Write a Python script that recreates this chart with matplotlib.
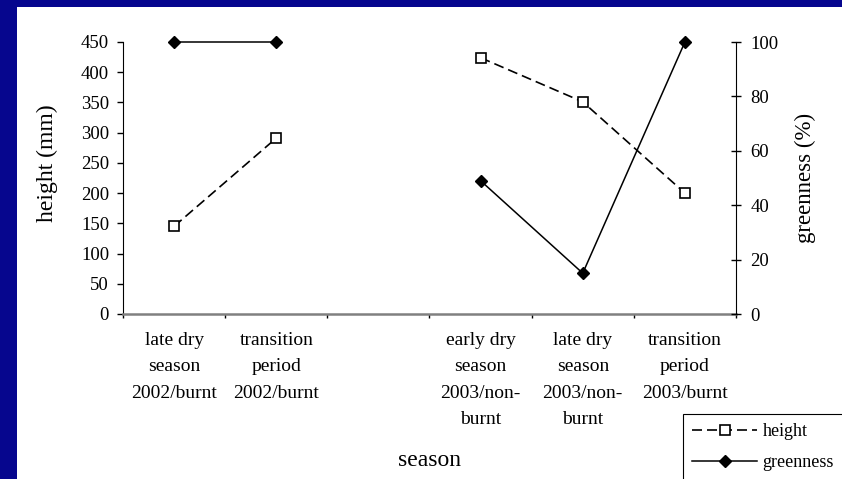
import numpy as np
import matplotlib
matplotlib.use("Agg")
import matplotlib.pyplot as plt
from matplotlib.patches import Rectangle

plt.rcParams['font.family'] = ['Liberation Serif', 'DejaVu Serif']

# chart data
categories = ["late dry\nseason\n2002/burnt",
              "transition\nperiod\n2002/burnt",
              "",
              "early dry\nseason\n2003/non-\nburnt",
              "late dry\nseason\n2003/non-\nburnt",
              "transition\nperiod\n2003/burnt"]
height_mm = [145, 291, np.nan, 424, 351, 200]
greenness = [100, 100, np.nan, 49, 15, 100]
height_ticks = [0, 50, 100, 150, 200, 250, 300, 350, 400, 450]
green_ticks = [0, 20, 40, 60, 80, 100]


def main():
    W, H = 842, 479
    fig = plt.figure(figsize=(W / 100, H / 100), dpi=100)
    fig.patch.set_facecolor('#06068e')

    # white slide area
    fig.patches.append(Rectangle((17 / W, 0), 1, 1 - 7 / H, transform=fig.transFigure,
                                 facecolor='white', edgecolor='none', zorder=-1))

    ax = fig.add_axes([123 / W, 1 - 314 / H, (736 - 123) / W, (314 - 42) / H])
    ax.set_facecolor('white')
    ax2 = ax.twinx()

    x = np.arange(len(categories))

    l1, = ax.plot(x, height_mm, color='black', lw=1.2, marker='s', ms=6.5,
                  mfc='white', mec='black', mew=1.2, label='height', clip_on=False)
    l1.set_dashes([6, 3])
    l2, = ax2.plot(x, greenness, color='black', lw=1.1, marker='D', ms=6,
                   mfc='black', mec='black', label='greenness', clip_on=False)

    ax.set_xlim(-0.5, len(categories) - 0.5)
    ax.set_ylim(0, 450)
    ax2.set_ylim(0, 100)

    # x axis: boundary ticks, labels centred in slots
    ax.set_xticks(np.arange(len(categories) + 1) - 0.5)
    ax.set_xticklabels([])
    ax.set_xticks(x, minor=True)
    ax.set_xticklabels(categories, minor=True, fontsize=14, linespacing=1.72)
    ax.tick_params(axis='x', which='major', direction='out', length=3, width=1, color='black')
    ax.tick_params(axis='x', which='minor', length=0, pad=13)

    ax.set_yticks(height_ticks)
    ax.tick_params(axis='y', direction='out', length=4, width=1, labelsize=13.5, pad=6)
    ax2.set_yticks(green_ticks)
    ax2.tick_params(axis='y', direction='inout', length=7, width=1, labelsize=13.5, pad=7)

    for a in (ax, ax2):
        a.spines['top'].set_visible(False)
    ax.spines['right'].set_visible(False)
    ax2.spines['left'].set_visible(False)
    ax2.spines['bottom'].set_visible(False)
    ax.spines['left'].set_color('black')
    ax.spines['bottom'].set_color('#808080')
    ax.spines['bottom'].set_linewidth(1.8)
    ax2.spines['right'].set_color('black')

    ax.set_ylabel('height (mm)', fontsize=17)
    ax.yaxis.set_label_coords(-0.124, 0.555)
    ax.yaxis.label.set_va('center')
    ax2.set_ylabel('greenness (%)', fontsize=16.5)
    ax2.yaxis.set_label_coords(1.1126, 0.5)
    ax2.yaxis.label.set_va('center')
    ax.set_xlabel('season', fontsize=17)
    ax.xaxis.set_label_coords(0.5, -(460 - 314) / 272)
    ax.xaxis.label.set_va('center')

    leg = fig.legend([l1, l2], ['height', 'greenness'], loc='upper left',
                     bbox_to_anchor=(683 / W, 1 - 414 / H), borderaxespad=0,
                     fontsize=13, handlelength=3.6, handletextpad=0.3,
                     labelspacing=0.8, borderpad=0.5, numpoints=1,
                     fancybox=False, framealpha=1, edgecolor='black')
    leg.get_frame().set_linewidth(0.8)

    fig.savefig('out.png', dpi=100, facecolor=fig.get_facecolor())
    plt.close()


if __name__ == "__main__":
    main()
